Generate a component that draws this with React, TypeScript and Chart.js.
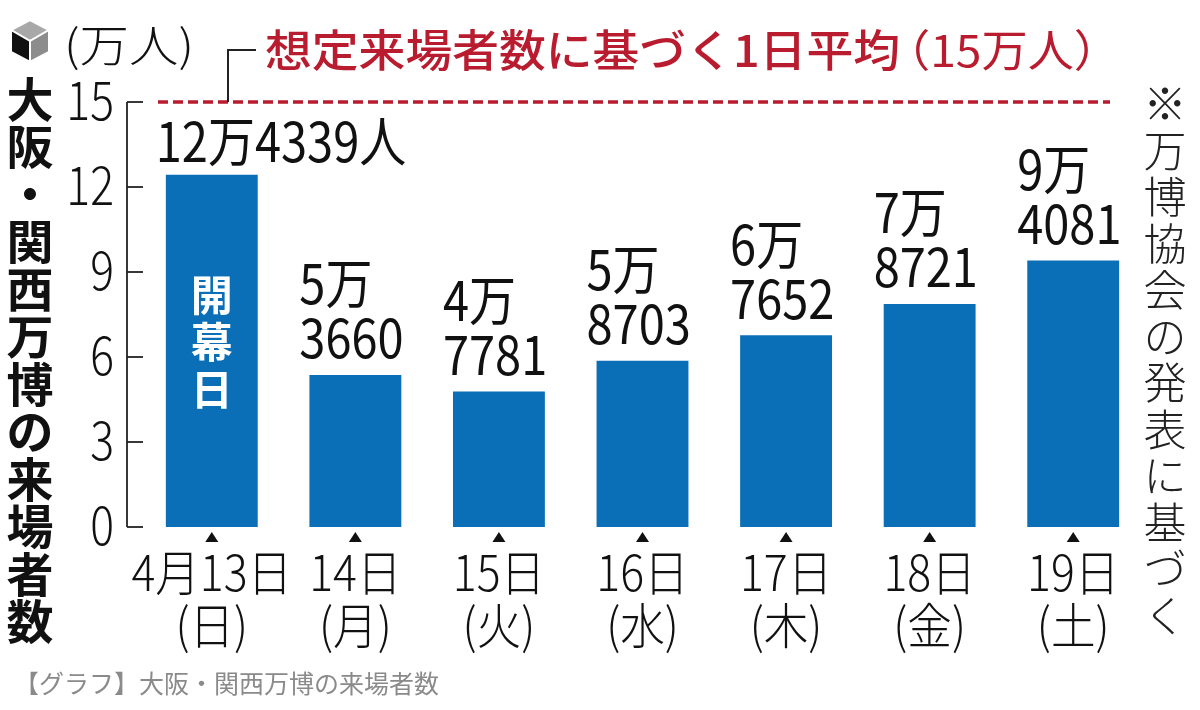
import { useEffect, useRef } from "react"
import { Chart, registerables } from "chart.js"

Chart.register(...registerables)

// 日付ラベル (2段)
const days = ["4月13日", "14日", "15日", "16日", "17日", "18日", "19日"]
const weekdays = ["(日)", "(月)", "(火)", "(水)", "(木)", "(金)", "(土)"]
// 来場者数 (人)
const visitors = [124339, 53660, 47781, 58703, 67652, 78721, 94081]
// y軸目盛 (万人)
const yTicks = [0, 3, 6, 9, 12, 15]
const targetAverage = 15

const titleText = "大阪・関西万博の来場者数"
const unitText = "(万人)"
const targetText = "想定来場者数に基づく1日平均"
const targetValueText = "（15万人）"
const noteText = "※万博協会の発表に基づく"
const openingText = "開幕日"
const captionText = "【グラフ】大阪・関西万博の来場者数"

const FONT = '"Noto Sans CJK JP", "Noto Sans", sans-serif'
const BLUE = "#0a6fb6"
const RED = "#b81c2e"

function drawText(
  ctx: CanvasRenderingContext2D,
  s: string,
  x: number,
  y: number,
  font: string,
  color: string,
  align: CanvasTextAlign = "center",
  sx = 1
) {
  ctx.save()
  ctx.font = font
  ctx.fillStyle = color
  ctx.textAlign = align
  ctx.textBaseline = "middle"
  ctx.translate(x, y)
  ctx.scale(sx, 1)
  ctx.fillText(s, 0, 0)
  ctx.restore()
}

// 左右の端に合わせて横幅を調整して描く
function drawFit(
  ctx: CanvasRenderingContext2D,
  s: string,
  left: number,
  right: number,
  y: number,
  font: string,
  color: string
) {
  ctx.save()
  ctx.font = font
  const w = ctx.measureText(s).width
  ctx.restore()
  drawText(ctx, s, left, y, font, color, "left", (right - left) / w)
}

function drawVertical(
  ctx: CanvasRenderingContext2D,
  s: string,
  x: number,
  y0: number,
  pitch: number,
  font: string,
  color: string
) {
  Array.from(s).forEach((ch, i) => drawText(ctx, ch, x, y0 + i * pitch, font, color))
}

const overlayPlugin = {
  id: "overlay",
  afterDraw(chart: any) {
    const { ctx, chartArea } = chart
    const x = chart.scales.x
    const y = chart.scales.y
    const y0 = y.getPixelForValue(0)
    const barHalf = 46

    ctx.save()

    // y軸 (内向き目盛)
    const axisX = chartArea.left - 13
    ctx.strokeStyle = "#222"
    ctx.lineWidth = 1.8
    ctx.beginPath()
    ctx.moveTo(axisX, y.getPixelForValue(15))
    ctx.lineTo(axisX, y0)
    ctx.stroke()
    yTicks.forEach((t) => {
      const py = y.getPixelForValue(t)
      ctx.beginPath()
      ctx.moveTo(axisX, py)
      ctx.lineTo(axisX + 16, py)
      ctx.stroke()
      drawText(ctx, String(t), axisX - 13, py - 2, `300 53px ${FONT}`, "#111", "right", 0.84)
    })

    // x軸ラベルと▲
    days.forEach((d, i) => {
      const px = x.getPixelForValue(i)
      ctx.fillStyle = "#111"
      ctx.beginPath()
      ctx.moveTo(px, y0 + 5)
      ctx.lineTo(px + 6.5, y0 + 15)
      ctx.lineTo(px - 6.5, y0 + 15)
      ctx.closePath()
      ctx.fill()
      drawText(ctx, d, px, y0 + 45, `300 49px ${FONT}`, "#111", "center", 0.91)
      drawText(ctx, weekdays[i], px, y0 + 98, `300 49px ${FONT}`, "#111", "center", 0.91)
    })

    // 値ラベル
    visitors.forEach((v, i) => {
      const left = x.getPixelForValue(i) - barHalf - 10
      const top = y.getPixelForValue(v / 10000)
      const man = Math.floor(v / 10000)
      const rest = String(v % 10000).padStart(4, "0")
      const f = `400 54px ${FONT}`
      if (i === 0) {
        drawText(ctx, `${man}万${rest}人`, left, top - 33, f, "#111", "left", 0.87)
      } else {
        drawText(ctx, `${man}万`, left, top - 91, f, "#111", "left", 0.87)
        drawText(ctx, rest, left, top - 37, f, "#111", "left", 0.87)
      }
    })

    // 開幕日
    drawVertical(ctx, openingText, x.getPixelForValue(0), 295, 47, `bold 42px ${FONT}`, "#fff")

    // 想定平均の破線
    const ty = y.getPixelForValue(targetAverage)
    ctx.strokeStyle = RED
    ctx.lineWidth = 3.5
    ctx.setLineDash([10, 5])
    ctx.beginPath()
    ctx.moveTo(chartArea.left + 18, ty)
    ctx.lineTo(chartArea.right - 35, ty)
    ctx.stroke()
    ctx.setLineDash([])

    // 引き出し線
    ctx.strokeStyle = "#222"
    ctx.lineWidth = 2
    ctx.beginPath()
    ctx.moveTo(chartArea.left + 88, ty)
    ctx.lineTo(chartArea.left + 88, 50)
    ctx.lineTo(chartArea.left + 116, 50)
    ctx.stroke()
    drawFit(ctx, targetText, 265, 900, 50, `500 44px ${FONT}`, RED)
    drawFit(ctx, targetValueText, 884, 1120, 50, `400 44px ${FONT}`, RED)

    // アイコン
    const faces: [string, number[][]][] = [
      ["#a8a8a8", [[30, 20], [49, 30], [30, 41], [11, 30]]],
      ["#111", [[11, 30], [30, 41], [30, 62], [11, 52]]],
      ["#8c8c8c", [[30, 41], [49, 30], [49, 52], [30, 62]]],
    ]
    ctx.strokeStyle = "#fff"
    ctx.lineWidth = 2
    faces.forEach(([c, pts]) => {
      ctx.fillStyle = c
      ctx.beginPath()
      pts.forEach(([a, b], k) => (k ? ctx.lineTo(a, b) : ctx.moveTo(a, b)))
      ctx.closePath()
      ctx.fill()
      ctx.stroke()
    })

    drawFit(ctx, unitText, 64, 194, 45, `300 44px ${FONT}`, "#111")

    // 縦書きタイトルと注記
    drawVertical(ctx, titleText, 30, 99, 47.5, `bold 47px ${FONT}`, "#111")
    drawVertical(ctx, noteText, 1165, 104, 46.5, `300 43px ${FONT}`, "#222")

    // キャプション
    drawText(ctx, captionText, 14, 683, `25px ${FONT}`, "#8a8a8a", "left")

    ctx.restore()
  },
}

function VisitorChart() {
  const chartRef = useRef<HTMLCanvasElement>(null)
  const chartInstance = useRef<Chart | null>(null)

  useEffect(() => {
    if (!chartRef.current) return
    if (chartInstance.current) chartInstance.current.destroy()

    chartInstance.current = new Chart(chartRef.current, {
      type: "bar",
      data: {
        labels: days,
        datasets: [
          {
            data: visitors.map((v) => v / 10000),
            backgroundColor: BLUE,
            barPercentage: 1,
            categoryPercentage: 0.64,
          },
        ],
      },
      options: {
        responsive: false,
        animation: false,
        layout: { padding: { left: 140, right: 55, top: 102, bottom: 183 } },
        plugins: { legend: { display: false }, tooltip: { enabled: false } },
        scales: {
          x: { display: false },
          y: { display: false, min: 0, max: 15 },
        },
      },
      plugins: [overlayPlugin],
    })

    return () => {
      if (chartInstance.current) {
        chartInstance.current.destroy()
        chartInstance.current = null
      }
    }
  }, [])

  return <canvas ref={chartRef} width={1200} height={710} style={{ display: "block" }} />
}

export default function App() {
  useEffect(() => {
    document.body.style.margin = "0"
    document.body.style.background = "#fff"
  }, [])
  return (
    <div style={{ width: 1200, height: 710, background: "#fff" }}>
      <VisitorChart />
    </div>
  )
}
